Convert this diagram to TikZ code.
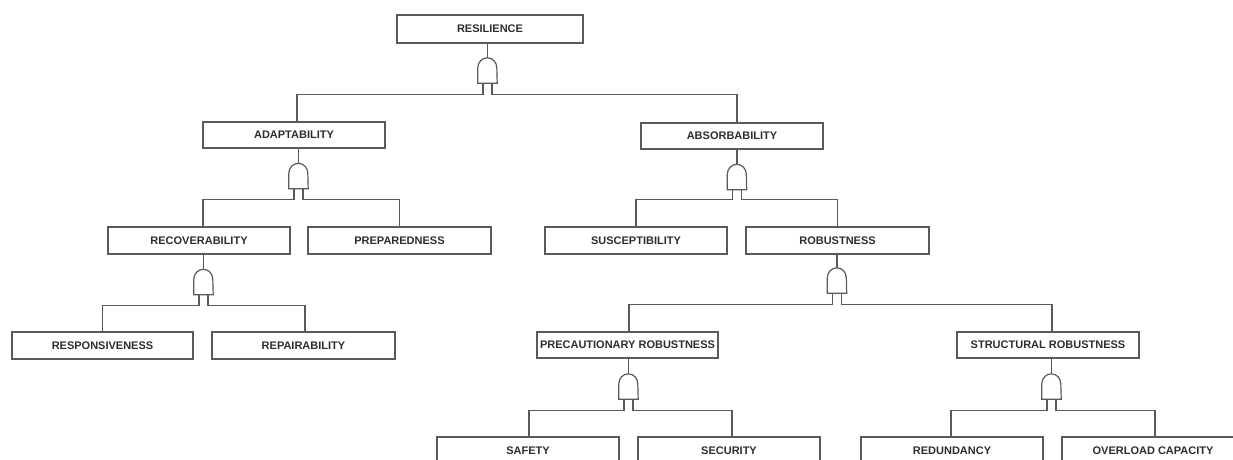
\documentclass[tikz,border=0pt]{standalone}
\usepackage{fontspec}
\setmainfont{Liberation Sans}
\definecolor{linegray}{HTML}{5A5A5A}
\definecolor{textgray}{HTML}{2E2E2E}
\tikzset{
  line/.style={draw=linegray, line width=1.2pt},
  fbox/.style={line, rectangle, inner sep=0pt, minimum height=27pt, minimum width=182pt,
     font=\fontsize{11pt}{13pt}\selectfont\bfseries, text=textgray},
  gatebox/.style={rectangle, inner sep=0pt, minimum width=19pt, minimum height=25pt},
}
\newcommand{\andgate}[1]{%
  \draw[line, fill=white] (#1.south west) -- ([yshift=-10pt]#1.north west)
    arc[start angle=180, end angle=0, x radius=9.5pt, y radius=10pt]
    -- (#1.south east) -- cycle;
  \coordinate (#1l) at ([xshift=-4.5pt]#1.south);
  \coordinate (#1r) at ([xshift=4.5pt]#1.south);}
\begin{document}
\begin{tikzpicture}[x=1pt, y=-1pt]
\useasboundingbox (0,0) rectangle (1233,459);
\clip (0,0) rectangle (1233,459);
\fill[white] (0,0) rectangle (1233,459);

% boxes
\node[fbox, minimum width=186pt, minimum height=28pt] (res) at (490,29) {RESILIENCE};
\node[fbox, minimum height=26pt] (adapt) at (294,135) {ADAPTABILITY};
\node[fbox, minimum height=26pt] (absorb) at (732,136) {ABSORBABILITY};
\node[fbox] (recov) at (199,240.5) {RECOVERABILITY};
\node[fbox, minimum width=183pt] (prep) at (399.5,240.5) {PREPAREDNESS};
\node[fbox] (susc) at (636,240.5) {SUSCEPTIBILITY};
\node[fbox, minimum width=183pt] (robust) at (837.5,240.5) {ROBUSTNESS};
\node[fbox, minimum width=181pt] (respons) at (102.5,345.5) {RESPONSIVENESS};
\node[fbox, minimum width=183pt] (repair) at (303.5,345.5) {REPAIRABILITY};
\node[fbox, minimum width=181pt, minimum height=26pt] (precaut) at (627.5,345) {PRECAUTIONARY ROBUSTNESS};
\node[fbox, minimum height=26pt] (struct) at (1048,345) {STRUCTURAL ROBUSTNESS};
\node[fbox] (safety) at (528,450.5) {SAFETY};
\node[fbox] (security) at (729,450.5) {SECURITY};
\node[fbox] (redund) at (952,450.5) {REDUNDANCY};
\node[fbox] (overload) at (1153,450.5) {OVERLOAD CAPACITY};

% gates
\node[gatebox] (g1) at (487.5,70.5) {};
\node[gatebox] (g2) at (298.5,176) {};
\node[gatebox] (g3) at (203.5,282) {};
\node[gatebox] (g4) at (737,177) {};
\node[gatebox] (g5) at (837,280.5) {};
\node[gatebox] (g6) at (628.5,386.5) {};
\node[gatebox] (g7) at (1051.5,386.5) {};
\andgate{g1}\andgate{g2}\andgate{g3}\andgate{g4}\andgate{g5}\andgate{g6}\andgate{g7}

% stems
\draw[line] (g1.north) -- (g1.north |- res.south);
\draw[line] (g2.north) -- (g2.north |- adapt.south);
\draw[line] (g3.north) -- (g3.north |- recov.south);
\draw[line] (g4.north) -- (g4.north |- absorb.south);
\draw[line] (g5.north) -- (g5.north |- robust.south);
\draw[line] (g6.north) -- (g6.north |- precaut.south);
\draw[line] (g7.north) -- (g7.north |- struct.south);

% branches
\draw[line] (g1l) -- ++(0,11) -| ([xshift=3pt]adapt.north);
\draw[line] (g1r) -- ++(0,11) -| ([xshift=5pt]absorb.north);
\draw[line] (g2l) -- ++(0,10.5) -| ([xshift=4pt]recov.north);
\draw[line] (g2r) -- ++(0,10.5) -| (prep.north);
\draw[line] (g3l) -- ++(0,10.5) -| (respons.north);
\draw[line] (g3r) -- ++(0,10.5) -| ([xshift=1.5pt]repair.north);
\draw[line] (g4l) -- ++(0,9.5) -| (susc.north);
\draw[line] (g4r) -- ++(0,9.5) -| (robust.north);
\draw[line] (g5l) -- ++(0,11) -| ([xshift=1.5pt]precaut.north);
\draw[line] (g5r) -- ++(0,11) -| ([xshift=4pt]struct.north);
\draw[line] (g6l) -- ++(0,11) -| ([xshift=1pt]safety.north);
\draw[line] (g6r) -- ++(0,11) -| ([xshift=3pt]security.north);
\draw[line] (g7l) -- ++(0,11) -| ([xshift=-1pt]redund.north);
\draw[line] (g7r) -- ++(0,11) -| ([xshift=2pt]overload.north);
\end{tikzpicture}
\end{document}
